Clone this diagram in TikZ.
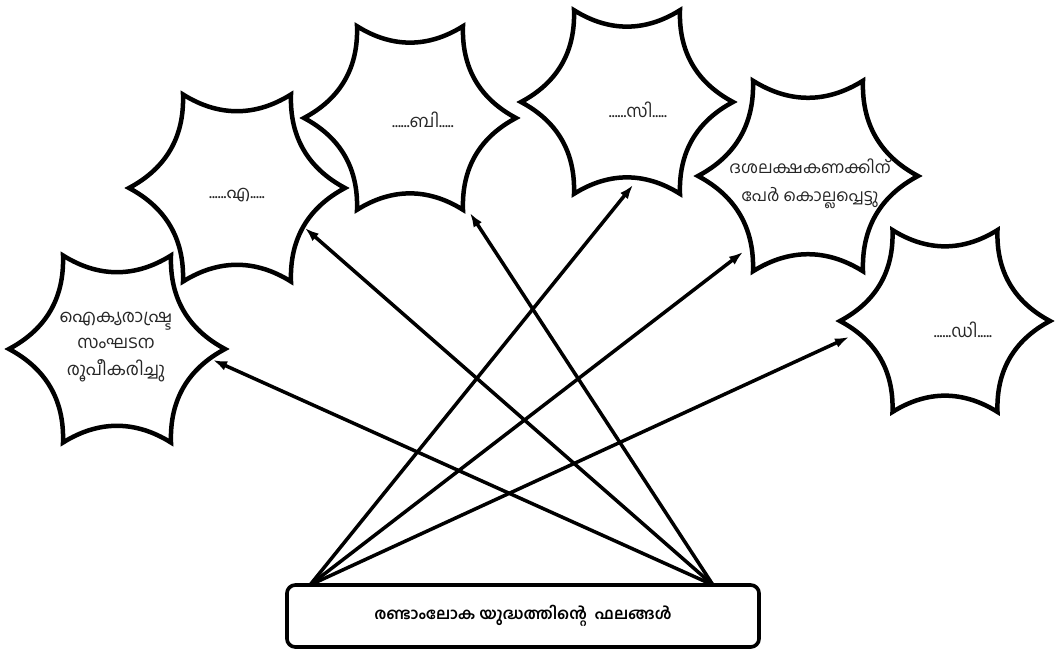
\documentclass[tikz,border=0pt]{standalone}
\usepackage{fontspec}
\newfontfamily\mlfont[Script=Malayalam]{Hind Kochi}
\usetikzlibrary{arrows.meta}

\newcommand{\hexstar}[2]{%
  \draw[starline] ([shift={(0:#2)}]#1)
    \foreach \a in {60,120,...,360} { to[bend right=32] ([shift={(\a:#2)}]#1) } -- cycle;}

\begin{document}
\begin{tikzpicture}[x=0.025cm, y=-0.025cm,
    starline/.style={line width=3.2pt, line join=miter, miter limit=20},
    startext/.style={align=center, text=black!85, font=\mlfont\fontsize{12.5}{19}\selectfont},
    result/.style={draw, line width=2.6pt, rounded corners=6pt, font=\mlfont\bfseries\fontsize{11.2}{14}\selectfont},
    arr/.style={line width=2.5pt, -{Latex[length=10pt,width=7pt]}}]
  \useasboundingbox (0,0) rectangle (1055,658);

  \coordinate (UNc) at (117,349);
  \coordinate (Ac) at (237,188);
  \coordinate (Bc) at (410,118);
  \coordinate (Cc) at (627,102);
  \coordinate (Dc) at (808,176);
  \coordinate (Ec) at (945,321);

  \hexstar{UNc}{108}
  \hexstar{Ac}{108}
  \hexstar{Bc}{106}
  \hexstar{Cc}{106}
  \hexstar{Dc}{110}
  \hexstar{Ec}{105}

  \node[startext] (UN) at (116,347) {ഐക്യരാഷ്ട്ര\\സംഘടന\\രൂപീകരിച്ചു};
  \node[startext] (A) at (237,195) {......എ.....};
  \node[startext] (B) at (423,120) {......ബി.....};
  \node[startext] (C) at (638,110) {......സി.....};
  \node[startext, font=\mlfont\fontsize{11.8}{20}\selectfont] (D) at (810,184) {ദശലക്ഷകണക്കിന്\\പേർ കൊല്ലപ്പെട്ടു};
  \node[startext] (E) at (963,330) {......ഡി.....};

  \node[result, minimum width=11.8cm, minimum height=1.55cm] (res) at (523,616) {രണ്ടാംലോക യുദ്ധത്തിന്റെ\ \ ഫലങ്ങൾ};

  \coordinate (lfoot) at (310,585);
  \coordinate (rfoot) at (713,585);
  \coordinate (UNtip) at (213,360);
  \coordinate (Atip) at (305,228);
  \coordinate (Btip) at (470,213);
  \coordinate (Ctip) at (633,185);
  \coordinate (Dtip) at (743,252);
  \coordinate (Etip) at (849,337);

  \draw[arr] (rfoot) -- (UNtip);
  \draw[arr] (rfoot) -- (Atip);
  \draw[arr] (rfoot) -- (Btip);
  \draw[arr] (lfoot) -- (Ctip);
  \draw[arr] (lfoot) -- (Dtip);
  \draw[arr] (lfoot) -- (Etip);
\end{tikzpicture}
\end{document}
